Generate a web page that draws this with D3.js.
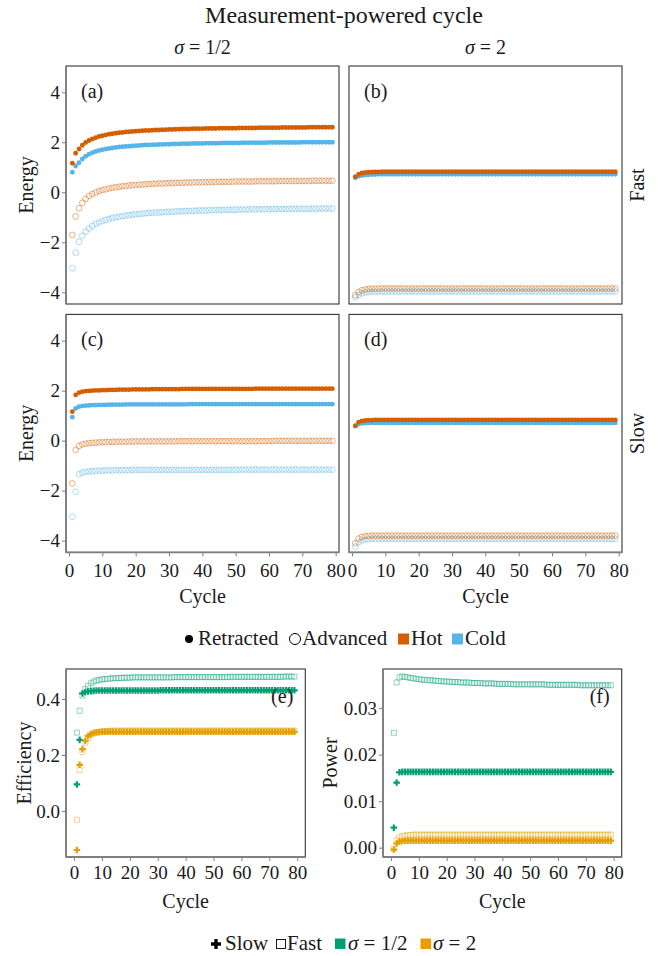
<!DOCTYPE html>
<html lang="en">
<head>
<meta charset="UTF-8">
<title>Measurement-powered cycle</title>

<!-- Load D3.js -->
<script src="https://d3js.org/d3.v7.min.js"></script>

<style>
  body {
    margin: 0;
    background: #fff;
  }
  svg text {
    font-family: "Liberation Serif", "Times New Roman", Times, serif !important;
  }
</style>
</head>
<body>

<div id="chart"></div>

<script>

// ------ Data ------

const cycles = d3.range(1, 80);

const energyTicks = [-4, -2, 0, 2, 4];
const cycleTicks = [0, 10, 20, 30, 40, 50, 60, 70, 80];
const effTicks = [0, 0.2, 0.4];
const powTicks = [0, 0.01, 0.02, 0.03];

// (a) Fast, sigma = 1/2
const aHotRetracted = [
  1.16, 1.56, 1.73, 1.88, 1.99, 2.07, 2.13, 2.18, 2.23, 2.26,
  2.29, 2.32, 2.34, 2.36, 2.38, 2.39, 2.41, 2.42, 2.43, 2.44,
  2.45, 2.46, 2.47, 2.47, 2.48, 2.49, 2.49, 2.50, 2.50, 2.51,
  2.51, 2.52, 2.52, 2.53, 2.53, 2.53, 2.54, 2.54, 2.54, 2.54,
  2.55, 2.55, 2.55, 2.55, 2.56, 2.56, 2.56, 2.56, 2.56, 2.56,
  2.57, 2.57, 2.57, 2.57, 2.57, 2.57, 2.58, 2.58, 2.58, 2.58,
  2.58, 2.58, 2.58, 2.59, 2.59, 2.59, 2.59, 2.59, 2.59, 2.59,
  2.59, 2.60, 2.60, 2.60, 2.60, 2.60, 2.60, 2.60, 2.60];
const aColdRetracted = [
  0.80, 1.05, 1.18, 1.33, 1.44, 1.52, 1.58, 1.63, 1.67, 1.70,
  1.73, 1.75, 1.77, 1.79, 1.81, 1.82, 1.83, 1.84, 1.85, 1.86,
  1.87, 1.88, 1.89, 1.89, 1.90, 1.90, 1.91, 1.91, 1.92, 1.92,
  1.93, 1.93, 1.93, 1.94, 1.94, 1.94, 1.95, 1.95, 1.95, 1.95,
  1.96, 1.96, 1.96, 1.96, 1.96, 1.97, 1.97, 1.97, 1.97, 1.97,
  1.97, 1.98, 1.98, 1.98, 1.98, 1.98, 1.98, 1.98, 1.98, 1.99,
  1.99, 1.99, 1.99, 1.99, 1.99, 1.99, 1.99, 1.99, 1.99, 2.00,
  2.00, 2.00, 2.00, 2.00, 2.00, 2.00, 2.00, 2.00, 2.00];
const aHotAdvanced = [
  -1.71, -0.97, -0.64, -0.42, -0.26, -0.15, -0.07, -0.01, 0.05, 0.09,
  0.12, 0.15, 0.18, 0.20, 0.22, 0.24, 0.25, 0.27, 0.28, 0.29,
  0.30, 0.31, 0.32, 0.33, 0.34, 0.34, 0.35, 0.35, 0.36, 0.37,
  0.37, 0.37, 0.38, 0.38, 0.39, 0.39, 0.39, 0.40, 0.40, 0.40,
  0.41, 0.41, 0.41, 0.41, 0.42, 0.42, 0.42, 0.42, 0.42, 0.43,
  0.43, 0.43, 0.43, 0.43, 0.43, 0.44, 0.44, 0.44, 0.44, 0.44,
  0.44, 0.44, 0.45, 0.45, 0.45, 0.45, 0.45, 0.45, 0.45, 0.45,
  0.45, 0.45, 0.46, 0.46, 0.46, 0.46, 0.46, 0.46, 0.46];
const aColdAdvanced = [
  -3.04, -2.42, -1.98, -1.74, -1.57, -1.45, -1.35, -1.27, -1.21, -1.15,
  -1.11, -1.07, -1.03, -1.00, -0.98, -0.95, -0.93, -0.92, -0.90, -0.88,
  -0.87, -0.86, -0.84, -0.83, -0.82, -0.81, -0.81, -0.80, -0.79, -0.78,
  -0.78, -0.77, -0.76, -0.76, -0.75, -0.75, -0.74, -0.74, -0.73, -0.73,
  -0.73, -0.72, -0.72, -0.71, -0.71, -0.71, -0.70, -0.70, -0.70, -0.70,
  -0.69, -0.69, -0.69, -0.69, -0.68, -0.68, -0.68, -0.68, -0.68, -0.68,
  -0.67, -0.67, -0.67, -0.67, -0.67, -0.67, -0.66, -0.66, -0.66, -0.66,
  -0.66, -0.66, -0.66, -0.66, -0.65, -0.65, -0.65, -0.65, -0.65];

// (b) Fast, sigma = 2
const bHotRetracted = [
  0.62, 0.72, 0.77, 0.79, 0.80, 0.81, 0.81, 0.81, 0.82, 0.82,
  0.82, 0.82, 0.82, 0.82, 0.82, 0.82, 0.82, 0.82, 0.82, 0.82,
  0.82, 0.82, 0.82, 0.82, 0.82, 0.82, 0.82, 0.82, 0.82, 0.82,
  0.82, 0.82, 0.82, 0.82, 0.82, 0.82, 0.82, 0.82, 0.82, 0.82,
  0.82, 0.82, 0.82, 0.82, 0.82, 0.82, 0.82, 0.82, 0.82, 0.82,
  0.82, 0.82, 0.82, 0.82, 0.82, 0.82, 0.82, 0.82, 0.82, 0.82,
  0.82, 0.82, 0.82, 0.82, 0.82, 0.82, 0.82, 0.82, 0.82, 0.82,
  0.82, 0.82, 0.82, 0.82, 0.82, 0.82, 0.82, 0.82, 0.82];
const bColdRetracted = [
  0.58, 0.64, 0.67, 0.69, 0.70, 0.71, 0.71, 0.72, 0.72, 0.72,
  0.72, 0.72, 0.72, 0.72, 0.72, 0.72, 0.72, 0.72, 0.72, 0.72,
  0.72, 0.72, 0.72, 0.72, 0.72, 0.72, 0.72, 0.72, 0.72, 0.72,
  0.72, 0.72, 0.72, 0.72, 0.72, 0.72, 0.72, 0.72, 0.72, 0.72,
  0.72, 0.72, 0.72, 0.72, 0.72, 0.72, 0.72, 0.72, 0.72, 0.72,
  0.72, 0.72, 0.72, 0.72, 0.72, 0.72, 0.72, 0.72, 0.72, 0.72,
  0.72, 0.72, 0.72, 0.72, 0.72, 0.72, 0.72, 0.72, 0.72, 0.72,
  0.72, 0.72, 0.72, 0.72, 0.72, 0.72, 0.72, 0.72, 0.72];
const bHotAdvanced = [
  -4.12, -3.99, -3.92, -3.89, -3.87, -3.86, -3.86, -3.85, -3.85, -3.85,
  -3.85, -3.85, -3.85, -3.85, -3.85, -3.85, -3.85, -3.85, -3.85, -3.85,
  -3.85, -3.85, -3.85, -3.85, -3.85, -3.85, -3.85, -3.85, -3.85, -3.85,
  -3.85, -3.85, -3.85, -3.85, -3.85, -3.85, -3.85, -3.85, -3.85, -3.85,
  -3.85, -3.85, -3.85, -3.85, -3.85, -3.85, -3.85, -3.85, -3.85, -3.85,
  -3.85, -3.85, -3.85, -3.85, -3.85, -3.85, -3.85, -3.85, -3.85, -3.85,
  -3.85, -3.85, -3.85, -3.85, -3.85, -3.85, -3.85, -3.85, -3.85, -3.85,
  -3.85, -3.85, -3.85, -3.85, -3.85, -3.85, -3.85, -3.85, -3.85];
const bColdAdvanced = [
  -4.20, -4.10, -4.04, -4.01, -3.99, -3.98, -3.98, -3.97, -3.97, -3.97,
  -3.97, -3.97, -3.97, -3.97, -3.97, -3.97, -3.97, -3.97, -3.97, -3.97,
  -3.97, -3.97, -3.97, -3.97, -3.97, -3.97, -3.97, -3.97, -3.97, -3.97,
  -3.97, -3.97, -3.97, -3.97, -3.97, -3.97, -3.97, -3.97, -3.97, -3.97,
  -3.97, -3.97, -3.97, -3.97, -3.97, -3.97, -3.97, -3.97, -3.97, -3.97,
  -3.97, -3.97, -3.97, -3.97, -3.97, -3.97, -3.97, -3.97, -3.97, -3.97,
  -3.97, -3.97, -3.97, -3.97, -3.97, -3.97, -3.97, -3.97, -3.97, -3.97,
  -3.97, -3.97, -3.97, -3.97, -3.97, -3.97, -3.97, -3.97, -3.97];

// (c) Slow, sigma = 1/2
const cHotRetracted = [
  1.16, 1.83, 1.92, 1.96, 1.98, 1.99, 2.00, 2.01, 2.01, 2.02,
  2.02, 2.03, 2.03, 2.03, 2.04, 2.04, 2.04, 2.04, 2.05, 2.05,
  2.05, 2.05, 2.05, 2.05, 2.06, 2.06, 2.06, 2.06, 2.06, 2.06,
  2.06, 2.06, 2.06, 2.07, 2.07, 2.07, 2.07, 2.07, 2.07, 2.07,
  2.07, 2.07, 2.07, 2.07, 2.07, 2.07, 2.07, 2.07, 2.07, 2.07,
  2.07, 2.07, 2.07, 2.07, 2.07, 2.08, 2.08, 2.08, 2.08, 2.08,
  2.08, 2.08, 2.08, 2.08, 2.08, 2.08, 2.08, 2.08, 2.08, 2.08,
  2.08, 2.08, 2.08, 2.08, 2.08, 2.08, 2.08, 2.08, 2.08];
const cColdRetracted = [
  0.94, 1.29, 1.36, 1.39, 1.40, 1.41, 1.42, 1.42, 1.43, 1.43,
  1.43, 1.44, 1.44, 1.44, 1.44, 1.44, 1.45, 1.45, 1.45, 1.45,
  1.45, 1.45, 1.45, 1.45, 1.45, 1.45, 1.45, 1.45, 1.45, 1.45,
  1.45, 1.45, 1.45, 1.45, 1.45, 1.46, 1.46, 1.46, 1.46, 1.46,
  1.46, 1.46, 1.46, 1.46, 1.46, 1.46, 1.46, 1.46, 1.46, 1.46,
  1.46, 1.46, 1.46, 1.46, 1.46, 1.46, 1.46, 1.46, 1.46, 1.46,
  1.46, 1.46, 1.46, 1.46, 1.46, 1.46, 1.46, 1.46, 1.46, 1.46,
  1.46, 1.46, 1.46, 1.46, 1.46, 1.46, 1.46, 1.46, 1.46];
const cHotAdvanced = [
  -1.71, -0.37, -0.21, -0.15, -0.12, -0.10, -0.09, -0.08, -0.07, -0.06,
  -0.06, -0.05, -0.05, -0.05, -0.04, -0.04, -0.04, -0.04, -0.03, -0.03,
  -0.03, -0.03, -0.03, -0.03, -0.03, -0.03, -0.03, -0.03, -0.03, -0.03,
  -0.03, -0.03, -0.02, -0.02, -0.02, -0.02, -0.02, -0.02, -0.02, -0.02,
  -0.02, -0.02, -0.02, -0.02, -0.02, -0.02, -0.02, -0.02, -0.02, -0.02,
  -0.02, -0.02, -0.02, -0.02, -0.02, -0.02, -0.02, -0.02, -0.02, -0.02,
  -0.01, -0.01, -0.01, -0.01, -0.01, -0.01, -0.01, -0.01, -0.01, -0.01,
  -0.01, -0.01, -0.01, -0.01, -0.01, -0.01, -0.01, -0.01, -0.01];
const cColdAdvanced = [
  -3.04, -2.04, -1.34, -1.28, -1.25, -1.23, -1.22, -1.21, -1.20, -1.20,
  -1.19, -1.19, -1.19, -1.18, -1.18, -1.18, -1.18, -1.18, -1.17, -1.17,
  -1.17, -1.17, -1.17, -1.17, -1.17, -1.17, -1.17, -1.17, -1.17, -1.17,
  -1.17, -1.17, -1.17, -1.17, -1.17, -1.17, -1.17, -1.17, -1.17, -1.17,
  -1.17, -1.17, -1.17, -1.17, -1.17, -1.17, -1.17, -1.17, -1.17, -1.17,
  -1.16, -1.16, -1.16, -1.16, -1.16, -1.16, -1.16, -1.16, -1.16, -1.16,
  -1.16, -1.16, -1.16, -1.16, -1.16, -1.16, -1.16, -1.16, -1.16, -1.16,
  -1.16, -1.16, -1.16, -1.16, -1.16, -1.16, -1.16, -1.16, -1.16];

// (d) Slow, sigma = 2
const dHotRetracted = [
  0.60, 0.74, 0.79, 0.81, 0.82, 0.82, 0.83, 0.83, 0.83, 0.83,
  0.83, 0.83, 0.83, 0.83, 0.83, 0.83, 0.83, 0.83, 0.83, 0.83,
  0.83, 0.83, 0.83, 0.83, 0.83, 0.83, 0.83, 0.83, 0.83, 0.83,
  0.83, 0.83, 0.83, 0.83, 0.83, 0.83, 0.83, 0.83, 0.83, 0.83,
  0.83, 0.83, 0.83, 0.83, 0.83, 0.83, 0.83, 0.83, 0.83, 0.83,
  0.83, 0.83, 0.83, 0.83, 0.83, 0.83, 0.83, 0.83, 0.83, 0.83,
  0.83, 0.83, 0.83, 0.83, 0.83, 0.83, 0.83, 0.83, 0.83, 0.83,
  0.83, 0.83, 0.83, 0.83, 0.83, 0.83, 0.83, 0.83, 0.83];
const dColdRetracted = [
  0.58, 0.66, 0.69, 0.70, 0.71, 0.71, 0.71, 0.71, 0.71, 0.71,
  0.71, 0.71, 0.71, 0.71, 0.71, 0.71, 0.71, 0.71, 0.71, 0.71,
  0.71, 0.71, 0.71, 0.71, 0.71, 0.71, 0.71, 0.71, 0.71, 0.71,
  0.71, 0.71, 0.71, 0.71, 0.71, 0.71, 0.71, 0.71, 0.71, 0.71,
  0.71, 0.71, 0.71, 0.71, 0.71, 0.71, 0.71, 0.71, 0.71, 0.71,
  0.71, 0.71, 0.71, 0.71, 0.71, 0.71, 0.71, 0.71, 0.71, 0.71,
  0.71, 0.71, 0.71, 0.71, 0.71, 0.71, 0.71, 0.71, 0.71, 0.71,
  0.71, 0.71, 0.71, 0.71, 0.71, 0.71, 0.71, 0.71, 0.71];
const dHotAdvanced = [
  -4.10, -3.92, -3.85, -3.82, -3.81, -3.80, -3.80, -3.80, -3.80, -3.80,
  -3.80, -3.80, -3.80, -3.80, -3.80, -3.80, -3.80, -3.80, -3.80, -3.80,
  -3.80, -3.80, -3.80, -3.80, -3.80, -3.80, -3.80, -3.80, -3.80, -3.80,
  -3.80, -3.80, -3.80, -3.80, -3.80, -3.80, -3.80, -3.80, -3.80, -3.80,
  -3.80, -3.80, -3.80, -3.80, -3.80, -3.80, -3.80, -3.80, -3.80, -3.80,
  -3.80, -3.80, -3.80, -3.80, -3.80, -3.80, -3.80, -3.80, -3.80, -3.80,
  -3.80, -3.80, -3.80, -3.80, -3.80, -3.80, -3.80, -3.80, -3.80, -3.80,
  -3.80, -3.80, -3.80, -3.80, -3.80, -3.80, -3.80, -3.80, -3.80];
const dColdAdvanced = [
  -4.24, -4.06, -3.99, -3.96, -3.94, -3.93, -3.93, -3.93, -3.93, -3.93,
  -3.93, -3.93, -3.93, -3.93, -3.93, -3.93, -3.93, -3.93, -3.93, -3.93,
  -3.93, -3.93, -3.93, -3.93, -3.93, -3.93, -3.93, -3.93, -3.93, -3.93,
  -3.93, -3.93, -3.93, -3.93, -3.93, -3.93, -3.93, -3.93, -3.93, -3.93,
  -3.93, -3.93, -3.93, -3.93, -3.93, -3.93, -3.93, -3.93, -3.93, -3.93,
  -3.93, -3.93, -3.93, -3.93, -3.93, -3.93, -3.93, -3.93, -3.93, -3.93,
  -3.93, -3.93, -3.93, -3.93, -3.93, -3.93, -3.93, -3.93, -3.93, -3.93,
  -3.93, -3.93, -3.93, -3.93, -3.93, -3.93, -3.93, -3.93, -3.93];

// (e) Efficiency
const effSlowHalf = [
  0.095, 0.254, 0.420, 0.425, 0.427, 0.428, 0.429, 0.430, 0.430, 0.430,
  0.430, 0.430, 0.430, 0.430, 0.430, 0.430, 0.430, 0.430, 0.430, 0.430,
  0.430, 0.430, 0.430, 0.430, 0.430, 0.430, 0.430, 0.430, 0.430, 0.430,
  0.431, 0.431, 0.431, 0.431, 0.431, 0.431, 0.431, 0.431, 0.431, 0.431,
  0.431, 0.431, 0.431, 0.431, 0.431, 0.431, 0.431, 0.431, 0.431, 0.431,
  0.431, 0.431, 0.431, 0.431, 0.431, 0.431, 0.431, 0.431, 0.431, 0.431,
  0.431, 0.431, 0.431, 0.431, 0.431, 0.431, 0.431, 0.431, 0.431, 0.431,
  0.431, 0.431, 0.431, 0.431, 0.431, 0.431, 0.431, 0.431, 0.431];
const effFastHalf = [
  0.280, 0.358, 0.412, 0.435, 0.447, 0.456, 0.462, 0.466, 0.468, 0.470,
  0.471, 0.472, 0.473, 0.474, 0.474, 0.475, 0.475, 0.476, 0.476, 0.476,
  0.477, 0.477, 0.477, 0.477, 0.477, 0.477, 0.477, 0.477, 0.477, 0.477,
  0.477, 0.477, 0.477, 0.477, 0.477, 0.478, 0.478, 0.478, 0.478, 0.478,
  0.478, 0.478, 0.478, 0.478, 0.478, 0.478, 0.478, 0.478, 0.478, 0.478,
  0.478, 0.478, 0.478, 0.478, 0.478, 0.479, 0.479, 0.479, 0.479, 0.479,
  0.479, 0.479, 0.479, 0.479, 0.479, 0.479, 0.479, 0.479, 0.479, 0.479,
  0.479, 0.479, 0.479, 0.479, 0.480, 0.480, 0.480, 0.480, 0.480];
const effSlowTwo = [
  -0.139, 0.165, 0.221, 0.251, 0.268, 0.275, 0.279, 0.281, 0.282, 0.283,
  0.283, 0.283, 0.283, 0.283, 0.283, 0.283, 0.283, 0.283, 0.283, 0.283,
  0.283, 0.283, 0.283, 0.283, 0.283, 0.283, 0.283, 0.283, 0.283, 0.283,
  0.283, 0.283, 0.283, 0.283, 0.283, 0.283, 0.283, 0.283, 0.283, 0.283,
  0.283, 0.283, 0.283, 0.283, 0.283, 0.283, 0.283, 0.283, 0.283, 0.283,
  0.283, 0.283, 0.283, 0.283, 0.283, 0.283, 0.283, 0.283, 0.283, 0.283,
  0.283, 0.283, 0.283, 0.283, 0.283, 0.283, 0.283, 0.283, 0.283, 0.283,
  0.283, 0.283, 0.283, 0.283, 0.283, 0.283, 0.283, 0.283, 0.283];
const effFastTwo = [
  -0.031, 0.146, 0.211, 0.244, 0.261, 0.271, 0.277, 0.280, 0.282, 0.284,
  0.285, 0.286, 0.286, 0.287, 0.287, 0.287, 0.287, 0.287, 0.287, 0.287,
  0.287, 0.287, 0.287, 0.287, 0.287, 0.287, 0.287, 0.287, 0.287, 0.287,
  0.287, 0.287, 0.287, 0.287, 0.287, 0.287, 0.287, 0.287, 0.287, 0.287,
  0.287, 0.287, 0.287, 0.287, 0.287, 0.287, 0.287, 0.287, 0.287, 0.287,
  0.287, 0.287, 0.287, 0.287, 0.287, 0.287, 0.287, 0.287, 0.287, 0.287,
  0.287, 0.287, 0.287, 0.287, 0.287, 0.287, 0.287, 0.287, 0.287, 0.287,
  0.287, 0.287, 0.287, 0.287, 0.287, 0.287, 0.287, 0.287, 0.287];

// (f) Power
const powSlowHalf = [
  0.0043, 0.0140, 0.0162, 0.0163, 0.0163, 0.0163, 0.0163, 0.0163, 0.0163, 0.0163,
  0.0163, 0.0163, 0.0163, 0.0163, 0.0163, 0.0163, 0.0163, 0.0163, 0.0163, 0.0163,
  0.0163, 0.0163, 0.0163, 0.0163, 0.0163, 0.0163, 0.0163, 0.0163, 0.0163, 0.0163,
  0.0163, 0.0163, 0.0163, 0.0163, 0.0163, 0.0163, 0.0163, 0.0163, 0.0163, 0.0163,
  0.0163, 0.0163, 0.0163, 0.0163, 0.0163, 0.0163, 0.0163, 0.0163, 0.0163, 0.0163,
  0.0163, 0.0163, 0.0163, 0.0163, 0.0163, 0.0163, 0.0163, 0.0163, 0.0163, 0.0163,
  0.0163, 0.0163, 0.0163, 0.0163, 0.0163, 0.0163, 0.0163, 0.0163, 0.0163, 0.0163,
  0.0163, 0.0163, 0.0163, 0.0163, 0.0163, 0.0163, 0.0163, 0.0163, 0.0163];
const powFastHalf = [
  0.0247, 0.0355, 0.0366, 0.0368, 0.0367, 0.0366, 0.0365, 0.0364, 0.0363, 0.0362,
  0.0361, 0.0361, 0.0360, 0.0360, 0.0359, 0.0359, 0.0358, 0.0358, 0.0357, 0.0357,
  0.0357, 0.0356, 0.0356, 0.0356, 0.0355, 0.0355, 0.0355, 0.0355, 0.0354, 0.0354,
  0.0354, 0.0354, 0.0353, 0.0353, 0.0353, 0.0353, 0.0353, 0.0352, 0.0352, 0.0352,
  0.0352, 0.0352, 0.0352, 0.0351, 0.0351, 0.0351, 0.0351, 0.0351, 0.0351, 0.0351,
  0.0351, 0.0351, 0.0351, 0.0351, 0.0351, 0.0350, 0.0350, 0.0350, 0.0350, 0.0350,
  0.0350, 0.0350, 0.0350, 0.0350, 0.0350, 0.0350, 0.0350, 0.0349, 0.0349, 0.0349,
  0.0349, 0.0349, 0.0349, 0.0349, 0.0349, 0.0349, 0.0349, 0.0349, 0.0349];
const powSlowTwo = [
  -0.0004, 0.0009, 0.0013, 0.0014, 0.0015, 0.0015, 0.0015, 0.0015, 0.0015, 0.0015,
  0.0015, 0.0015, 0.0015, 0.0015, 0.0015, 0.0015, 0.0015, 0.0015, 0.0015, 0.0015,
  0.0015, 0.0015, 0.0015, 0.0015, 0.0015, 0.0015, 0.0015, 0.0015, 0.0015, 0.0015,
  0.0015, 0.0015, 0.0015, 0.0015, 0.0015, 0.0015, 0.0015, 0.0015, 0.0015, 0.0015,
  0.0015, 0.0015, 0.0015, 0.0015, 0.0015, 0.0015, 0.0015, 0.0015, 0.0015, 0.0015,
  0.0015, 0.0015, 0.0015, 0.0015, 0.0015, 0.0015, 0.0015, 0.0015, 0.0015, 0.0015,
  0.0015, 0.0015, 0.0015, 0.0015, 0.0015, 0.0015, 0.0015, 0.0015, 0.0015, 0.0015,
  0.0015, 0.0015, 0.0015, 0.0015, 0.0015, 0.0015, 0.0015, 0.0015, 0.0015];
const powFastTwo = [
  -0.0002, 0.0016, 0.0022, 0.0025, 0.0026, 0.0027, 0.0027, 0.0028, 0.0028, 0.0028,
  0.0028, 0.0028, 0.0028, 0.0028, 0.0028, 0.0028, 0.0028, 0.0028, 0.0028, 0.0028,
  0.0028, 0.0028, 0.0028, 0.0028, 0.0028, 0.0028, 0.0028, 0.0028, 0.0028, 0.0028,
  0.0028, 0.0028, 0.0028, 0.0028, 0.0028, 0.0028, 0.0028, 0.0028, 0.0028, 0.0028,
  0.0028, 0.0028, 0.0028, 0.0028, 0.0028, 0.0028, 0.0028, 0.0028, 0.0028, 0.0028,
  0.0028, 0.0028, 0.0028, 0.0028, 0.0028, 0.0028, 0.0028, 0.0028, 0.0028, 0.0028,
  0.0028, 0.0028, 0.0028, 0.0028, 0.0028, 0.0028, 0.0028, 0.0028, 0.0028, 0.0028,
  0.0028, 0.0028, 0.0028, 0.0028, 0.0028, 0.0028, 0.0028, 0.0028, 0.0028];

// ------ Styles ------

const serif = '"Liberation Serif", "Times New Roman", Times, serif';
const textCol = "#1a1a1a";
const colHot = "#D55E00";
const colCold = "#56B4E9";
const colHalf = "#009E73";
const colTwo = "#E69F00";

const svg = d3.select("#chart")
  .append("svg")
    .attr("width", 662)
    .attr("height", 956)
    .style("font-family", serif);

function styleAxis(g) {
  g.attr("font-family", serif).attr("font-size", 19);
  g.select(".domain").remove();
  g.selectAll(".tick line").attr("stroke", "#7f7f7f").attr("stroke-width", 1);
  g.selectAll(".tick text").attr("fill", textCol);
}

function sigmaLabel(sel, value) {
  sel.append("tspan").attr("font-style", "italic").text("σ");
  sel.append("tspan").text(" = " + value);
}

function panelFrame(g, x0, x1, y0, y1, left, bottom) {
  g.append("rect")
    .attr("x", x0).attr("y", y0)
    .attr("width", x1 - x0).attr("height", y1 - y0)
    .attr("fill", "none")
    .attr("stroke", "#333")
    .attr("stroke-width", 1.1);
  if (left) {
    g.append("line").attr("x1", x0).attr("x2", x0).attr("y1", y0).attr("y2", y1)
      .attr("stroke", "#7f7f7f").attr("stroke-width", 1.8);
  }
  if (bottom) {
    g.append("line").attr("x1", x0).attr("x2", x1).attr("y1", y1).attr("y2", y1)
      .attr("stroke", "#7f7f7f").attr("stroke-width", 1.8);
  }
}

// ------ Title and strips ------

svg.append("text")
  .attr("x", 344).attr("y", 23)
  .attr("text-anchor", "middle")
  .attr("font-size", 24)
  .attr("fill", textCol)
  .text("Measurement-powered cycle");

const energyCols = [[66, 339], [349, 622]];
const energyRows = [[66, 304], [314.4, 552.4]];
const colStrips = ["1/2", "2"];
const rowStrips = ["Fast", "Slow"];

colStrips.forEach((s, i) => {
  svg.append("text")
    .attr("x", (energyCols[i][0] + energyCols[i][1]) / 2)
    .attr("y", 54)
    .attr("text-anchor", "middle")
    .attr("font-size", 20)
    .attr("fill", textCol)
    .call(sigmaLabel, s);
});

rowStrips.forEach((s, i) => {
  svg.append("text")
    .attr("transform", `translate(644,${(energyRows[i][0] + energyRows[i][1]) / 2}) rotate(-90)`)
    .attr("text-anchor", "middle")
    .attr("font-size", 20)
    .attr("fill", textCol)
    .text(s);
});

// ------ Energy panels (a)-(d) ------

const energyPanels = [
  {tag: "(a)", col: 0, row: 0, hotR: aHotRetracted, coldR: aColdRetracted, hotA: aHotAdvanced, coldA: aColdAdvanced},
  {tag: "(b)", col: 1, row: 0, hotR: bHotRetracted, coldR: bColdRetracted, hotA: bHotAdvanced, coldA: bColdAdvanced},
  {tag: "(c)", col: 0, row: 1, hotR: cHotRetracted, coldR: cColdRetracted, hotA: cHotAdvanced, coldA: cColdAdvanced},
  {tag: "(d)", col: 1, row: 1, hotR: dHotRetracted, coldR: dColdRetracted, hotA: dHotAdvanced, coldA: dColdAdvanced}
];

energyPanels.forEach(p => {
  const [x0, x1] = energyCols[p.col];
  const [y0, y1] = energyRows[p.row];
  const x = d3.scaleLinear().domain([-0.9, 81]).range([x0, x1]);
  const y = d3.scaleLinear().domain([-4.47, 5.05]).range([y1, y0]);
  const g = svg.append("g");

  panelFrame(g, x0, x1, y0, y1, p.col === 0, p.row === 1);

  // advanced: hollow circles
  [[p.coldA, colCold], [p.hotA, colHot]].forEach(([vals, c]) => {
    g.append("g").selectAll("circle")
      .data(vals)
      .join("circle")
        .attr("cx", (d, i) => x(cycles[i]))
        .attr("cy", d => y(d))
        .attr("r", 2.9)
        .attr("fill", "none")
        .attr("stroke", c)
        .attr("stroke-opacity", 0.6)
        .attr("stroke-width", 0.8);
  });

  // retracted: filled circles
  [[p.coldR, colCold], [p.hotR, colHot]].forEach(([vals, c]) => {
    g.append("g").selectAll("circle")
      .data(vals)
      .join("circle")
        .attr("cx", (d, i) => x(cycles[i]))
        .attr("cy", d => y(d))
        .attr("r", 2.4)
        .attr("fill", c);
  });

  g.append("text")
    .attr("x", x0 + 15).attr("y", y0 + 32)
    .attr("font-size", 20)
    .attr("fill", textCol)
    .text(p.tag);

  if (p.col === 0) {
    g.append("g")
      .attr("transform", `translate(${x0},0)`)
      .call(d3.axisLeft(y).tickValues(energyTicks).tickSize(4).tickPadding(2))
      .call(styleAxis);
    g.append("text")
      .attr("transform", `translate(33,${(y0 + y1) / 2}) rotate(-90)`)
      .attr("text-anchor", "middle")
      .attr("font-size", 20)
      .attr("fill", textCol)
      .text("Energy");
  }
  if (p.row === 1) {
    g.append("g")
      .attr("transform", `translate(0,${y1})`)
      .call(d3.axisBottom(x).tickValues(cycleTicks).tickSize(4).tickPadding(7))
      .call(styleAxis);
    g.append("text")
      .attr("x", (x0 + x1) / 2).attr("y", 603)
      .attr("text-anchor", "middle")
      .attr("font-size", 20)
      .attr("fill", textCol)
      .text("Cycle");
  }
});

// ------ Legend 1 ------

const leg1 = svg.append("g").attr("font-size", 21).attr("fill", textCol);
leg1.append("circle").attr("cx", 189).attr("cy", 639).attr("r", 4).attr("fill", "#000");
leg1.append("text").attr("x", 198).attr("y", 645).text("Retracted");
leg1.append("circle").attr("cx", 295).attr("cy", 639).attr("r", 5.5)
  .attr("fill", "none").attr("stroke", "#000").attr("stroke-width", 1);
leg1.append("text").attr("x", 302).attr("y", 645).text("Advanced");
leg1.append("rect").attr("x", 398).attr("y", 633.5).attr("width", 11).attr("height", 11).attr("fill", colHot);
leg1.append("text").attr("x", 411).attr("y", 645).text("Hot");
leg1.append("rect").attr("x", 452).attr("y", 633.5).attr("width", 11).attr("height", 11).attr("fill", colCold);
leg1.append("text").attr("x", 465).attr("y", 645).text("Cold");

// ------ Efficiency and power panels (e), (f) ------

const cross = d3.symbol().type(d3.symbolCross).size(24)();
const square = d3.symbol().type(d3.symbolSquare).size(25)();

const bottomPanels = [
  {tag: "(e)", x0: 66, x1: 305.3, domain: [-0.164, 0.507], ticks: effTicks, fmt: ".1f",
   title: "Efficiency", titleX: 31,
   fast: [[effFastHalf, colHalf], [effFastTwo, colTwo]],
   slow: [[effSlowHalf, colHalf], [effSlowTwo, colTwo]]},
  {tag: "(f)", x0: 383, x1: 621.7, domain: [-0.002, 0.0384], ticks: powTicks, fmt: ".2f",
   title: "Power", titleX: 337,
   fast: [[powFastHalf, colHalf], [powFastTwo, colTwo]],
   slow: [[powSlowHalf, colHalf], [powSlowTwo, colTwo]]}
];

const by0 = 669, by1 = 857;

bottomPanels.forEach(p => {
  const x = d3.scaleLinear().domain([-2.9, 82.9]).range([p.x0, p.x1]);
  const y = d3.scaleLinear().domain(p.domain).range([by1, by0]);
  const g = svg.append("g");

  panelFrame(g, p.x0, p.x1, by0, by1, true, true);

  p.fast.forEach(([vals, c]) => {
    g.append("g").selectAll("path")
      .data(vals)
      .join("path")
        .attr("d", square)
        .attr("transform", (d, i) => `translate(${x(cycles[i])},${y(d)})`)
        .attr("fill", "none")
        .attr("stroke", c)
        .attr("stroke-opacity", 0.55)
        .attr("stroke-width", 0.8);
  });

  p.slow.forEach(([vals, c]) => {
    g.append("g").selectAll("path")
      .data(vals)
      .join("path")
        .attr("d", cross)
        .attr("transform", (d, i) => `translate(${x(cycles[i])},${y(d)})`)
        .attr("fill", c);
  });

  g.append("text")
    .attr("x", p.x1 - 12).attr("y", 703)
    .attr("text-anchor", "end")
    .attr("font-size", 20)
    .attr("fill", textCol)
    .text(p.tag);

  g.append("g")
    .attr("transform", `translate(${p.x0},0)`)
    .call(d3.axisLeft(y).tickValues(p.ticks).tickFormat(d3.format(p.fmt)).tickSize(4).tickPadding(2))
    .call(styleAxis);

  g.append("g")
    .attr("transform", `translate(0,${by1})`)
    .call(d3.axisBottom(x).tickValues(cycleTicks).tickSize(4).tickPadding(5))
    .call(styleAxis);

  g.append("text")
    .attr("transform", `translate(${p.titleX},${(by0 + by1) / 2}) rotate(-90)`)
    .attr("text-anchor", "middle")
    .attr("font-size", 20)
    .attr("fill", textCol)
    .text(p.title);

  g.append("text")
    .attr("x", (p.x0 + p.x1) / 2).attr("y", 908)
    .attr("text-anchor", "middle")
    .attr("font-size", 20)
    .attr("fill", textCol)
    .text("Cycle");
});

// ------ Legend 2 ------

const leg2 = svg.append("g").attr("font-size", 21).attr("fill", textCol);
leg2.append("path")
  .attr("d", d3.symbol().type(d3.symbolCross).size(55)())
  .attr("transform", "translate(216,944)")
  .attr("fill", "#000");
leg2.append("text").attr("x", 225).attr("y", 950).text("Slow");
leg2.append("rect").attr("x", 276.5).attr("y", 939.5).attr("width", 9).attr("height", 9)
  .attr("fill", "none").attr("stroke", "#000").attr("stroke-width", 0.9);
leg2.append("text").attr("x", 287).attr("y", 950).text("Fast");
leg2.append("rect").attr("x", 335).attr("y", 938.5).attr("width", 10.5).attr("height", 10.5).attr("fill", colHalf);
leg2.append("text").attr("x", 348).attr("y", 950).call(sigmaLabel, "1/2");
leg2.append("rect").attr("x", 420.5).attr("y", 938.5).attr("width", 10.5).attr("height", 10.5).attr("fill", colTwo);
leg2.append("text").attr("x", 433).attr("y", 950).call(sigmaLabel, "2");

</script>

</body>
</html>
